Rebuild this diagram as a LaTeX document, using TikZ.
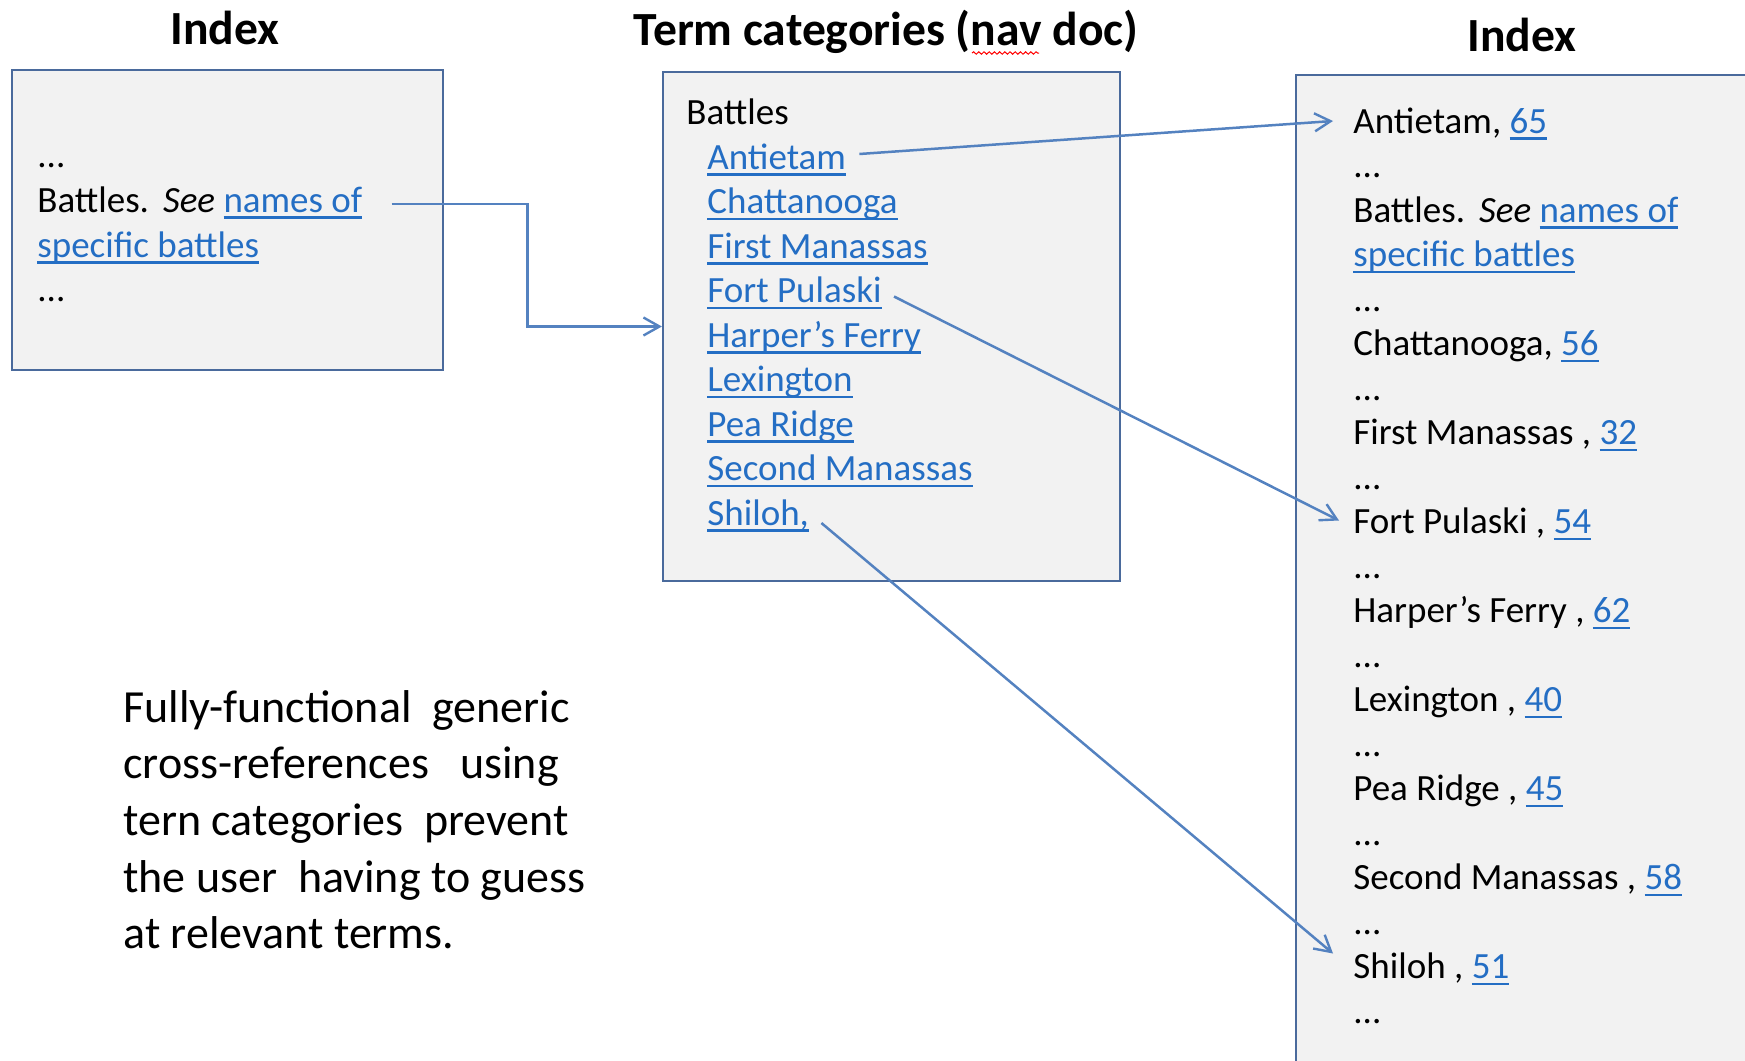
\documentclass[tikz,border=0pt]{standalone}
\usepackage{fontspec}
\setmainfont{Carlito}
\usetikzlibrary{arrows.meta,calc,decorations.pathmorphing}
\definecolor{boxline}{RGB}{74,106,156}
\definecolor{boxfill}{RGB}{242,242,242}
\definecolor{linkblue}{RGB}{36,110,196}
\definecolor{connblue}{RGB}{84,130,192}
\newcommand\mylnk[1]{{\color{linkblue}\setbox0\hbox{#1}\rlap{\rule[-3.3pt]{\wd0}{1.1pt}}\box0}}
\tikzset{
  panel/.style={draw=boxline, line width=1.1pt, fill=boxfill, rectangle, inner sep=0pt},
  entry/.style={anchor=base west, inner sep=0pt, font=\fontsize{18.5}{22}\selectfont},
  heading/.style={anchor=base, inner sep=0pt, font=\fontsize{23.8}{28}\selectfont\bfseries},
  conn/.style={draw=connblue, line width=1.25pt, -{Straight Barb[length=8pt,width=9pt,line width=1.2pt]}},
}
\begin{document}
\begin{tikzpicture}[x=0.5pt,y=-0.5pt]
\useasboundingbox (0,0) rectangle (1745,1060);
\clip (0,0) rectangle (1745,1060);
% headings
\node[heading] (tleft) at (225,44) {Index};
\node[heading] (tmid) at (886,46) {Term categories (nav doc)};
\node[heading] (tright) at (1522,51) {Index};
\draw[red, line width=0.5pt, decorate, decoration={snake, amplitude=0.6pt, segment length=2.6pt}] (972,53) -- (1039,53);
% panels
\node[panel, minimum width=215.5pt, minimum height=150pt] (lbox) at (227.5,220) {};
\node[panel, minimum width=228.5pt, minimum height=254.5pt] (mbox) at (891.5,326.5) {};
\node[panel, minimum width=237pt, minimum height=502.5pt] (rbox) at (1533,577.5) {};
% left index
\node[entry] (ldots1) at (37,167) {...};
\node[entry] (lbattles) at (37,212) {Battles.\hspace{7pt}\textit{See} \mylnk{names of}};
\node[entry] (lspec) at (37,257) {\mylnk{specific battles}};
\node[entry] (ldots2) at (37,301) {...};
% term categories
\node[entry] (mhead) at (686,124) {Battles};
\foreach \itm [count=\i] in {Antietam, Chattanooga, First Manassas, Fort Pulaski, Harper’s Ferry, Lexington, Pea Ridge, Second Manassas, {Shiloh,}}
  \node[entry] (mi\i) at (707,{169+44.5*(\i-1)}) {\mylnk{\itm}};
% right index
\node[entry] (rAnt) at (1353,133) {Antietam, \mylnk{65}};
\node[entry] (rd1) at (1353,177.5) {...};
\node[entry] (rBat) at (1353,222) {Battles.\hspace{7pt}\textit{See} \mylnk{names of}};
\node[entry] (rSpec) at (1353,266.5) {\mylnk{specific battles}};
\node[entry] (rd2) at (1353,311) {...};
\node[entry] (rCha) at (1353,355.5) {Chattanooga, \mylnk{56}};
\node[entry] (rd3) at (1353,400) {...};
\node[entry] (rFir) at (1353,444.5) {First Manassas , \mylnk{32}};
\node[entry] (rd4) at (1353,489) {...};
\node[entry] (rFort) at (1353,533.5) {Fort Pulaski , \mylnk{54}};
\node[entry] (rd5) at (1353,578) {...};
\node[entry] (rHar) at (1353,622.5) {Harper’s Ferry , \mylnk{62}};
\node[entry] (rd6) at (1353,667) {...};
\node[entry] (rLex) at (1353,711.5) {Lexington , \mylnk{40}};
\node[entry] (rd7) at (1353,756) {...};
\node[entry] (rPea) at (1353,800.5) {Pea Ridge , \mylnk{45}};
\node[entry] (rd8) at (1353,845) {...};
\node[entry] (rSec) at (1353,889.5) {Second Manassas , \mylnk{58}};
\node[entry] (rd9) at (1353,934) {...};
\node[entry] (rShi) at (1353,978.5) {Shiloh , \mylnk{51}};
\node[entry] (rd10) at (1353,1023) {...};
% note
\node[anchor=base west, inner sep=0pt] (note) at (123,722) {\fontsize{23}{28.35}\selectfont\vtop{%
  \hbox{Fully-functional\ \ generic}%
  \hbox{cross-references\ \ \ using}%
  \hbox{tern categories\ \ prevent}%
  \hbox{the user\ \ having to guess}%
  \hbox{at relevant terms.}}};
% connectors
\draw[conn] ($(lbattles.base east)+(29,-8)$) -- ++(136,0) |- (mbox.west);
\draw[conn] ($(mi1.base east)+(13,-15)$) -- ($(rAnt.base west)+(-20,-12)$);
\draw[conn] ($(mi4.base east)+(12,-6)$) -- ($(rFort.base west)+(-14,-13)$);
\draw[conn] ($(mi9.base east)+(12,-2)$) -- ($(rShi.base west)+(-20,-25)$);
\end{tikzpicture}
\end{document}
